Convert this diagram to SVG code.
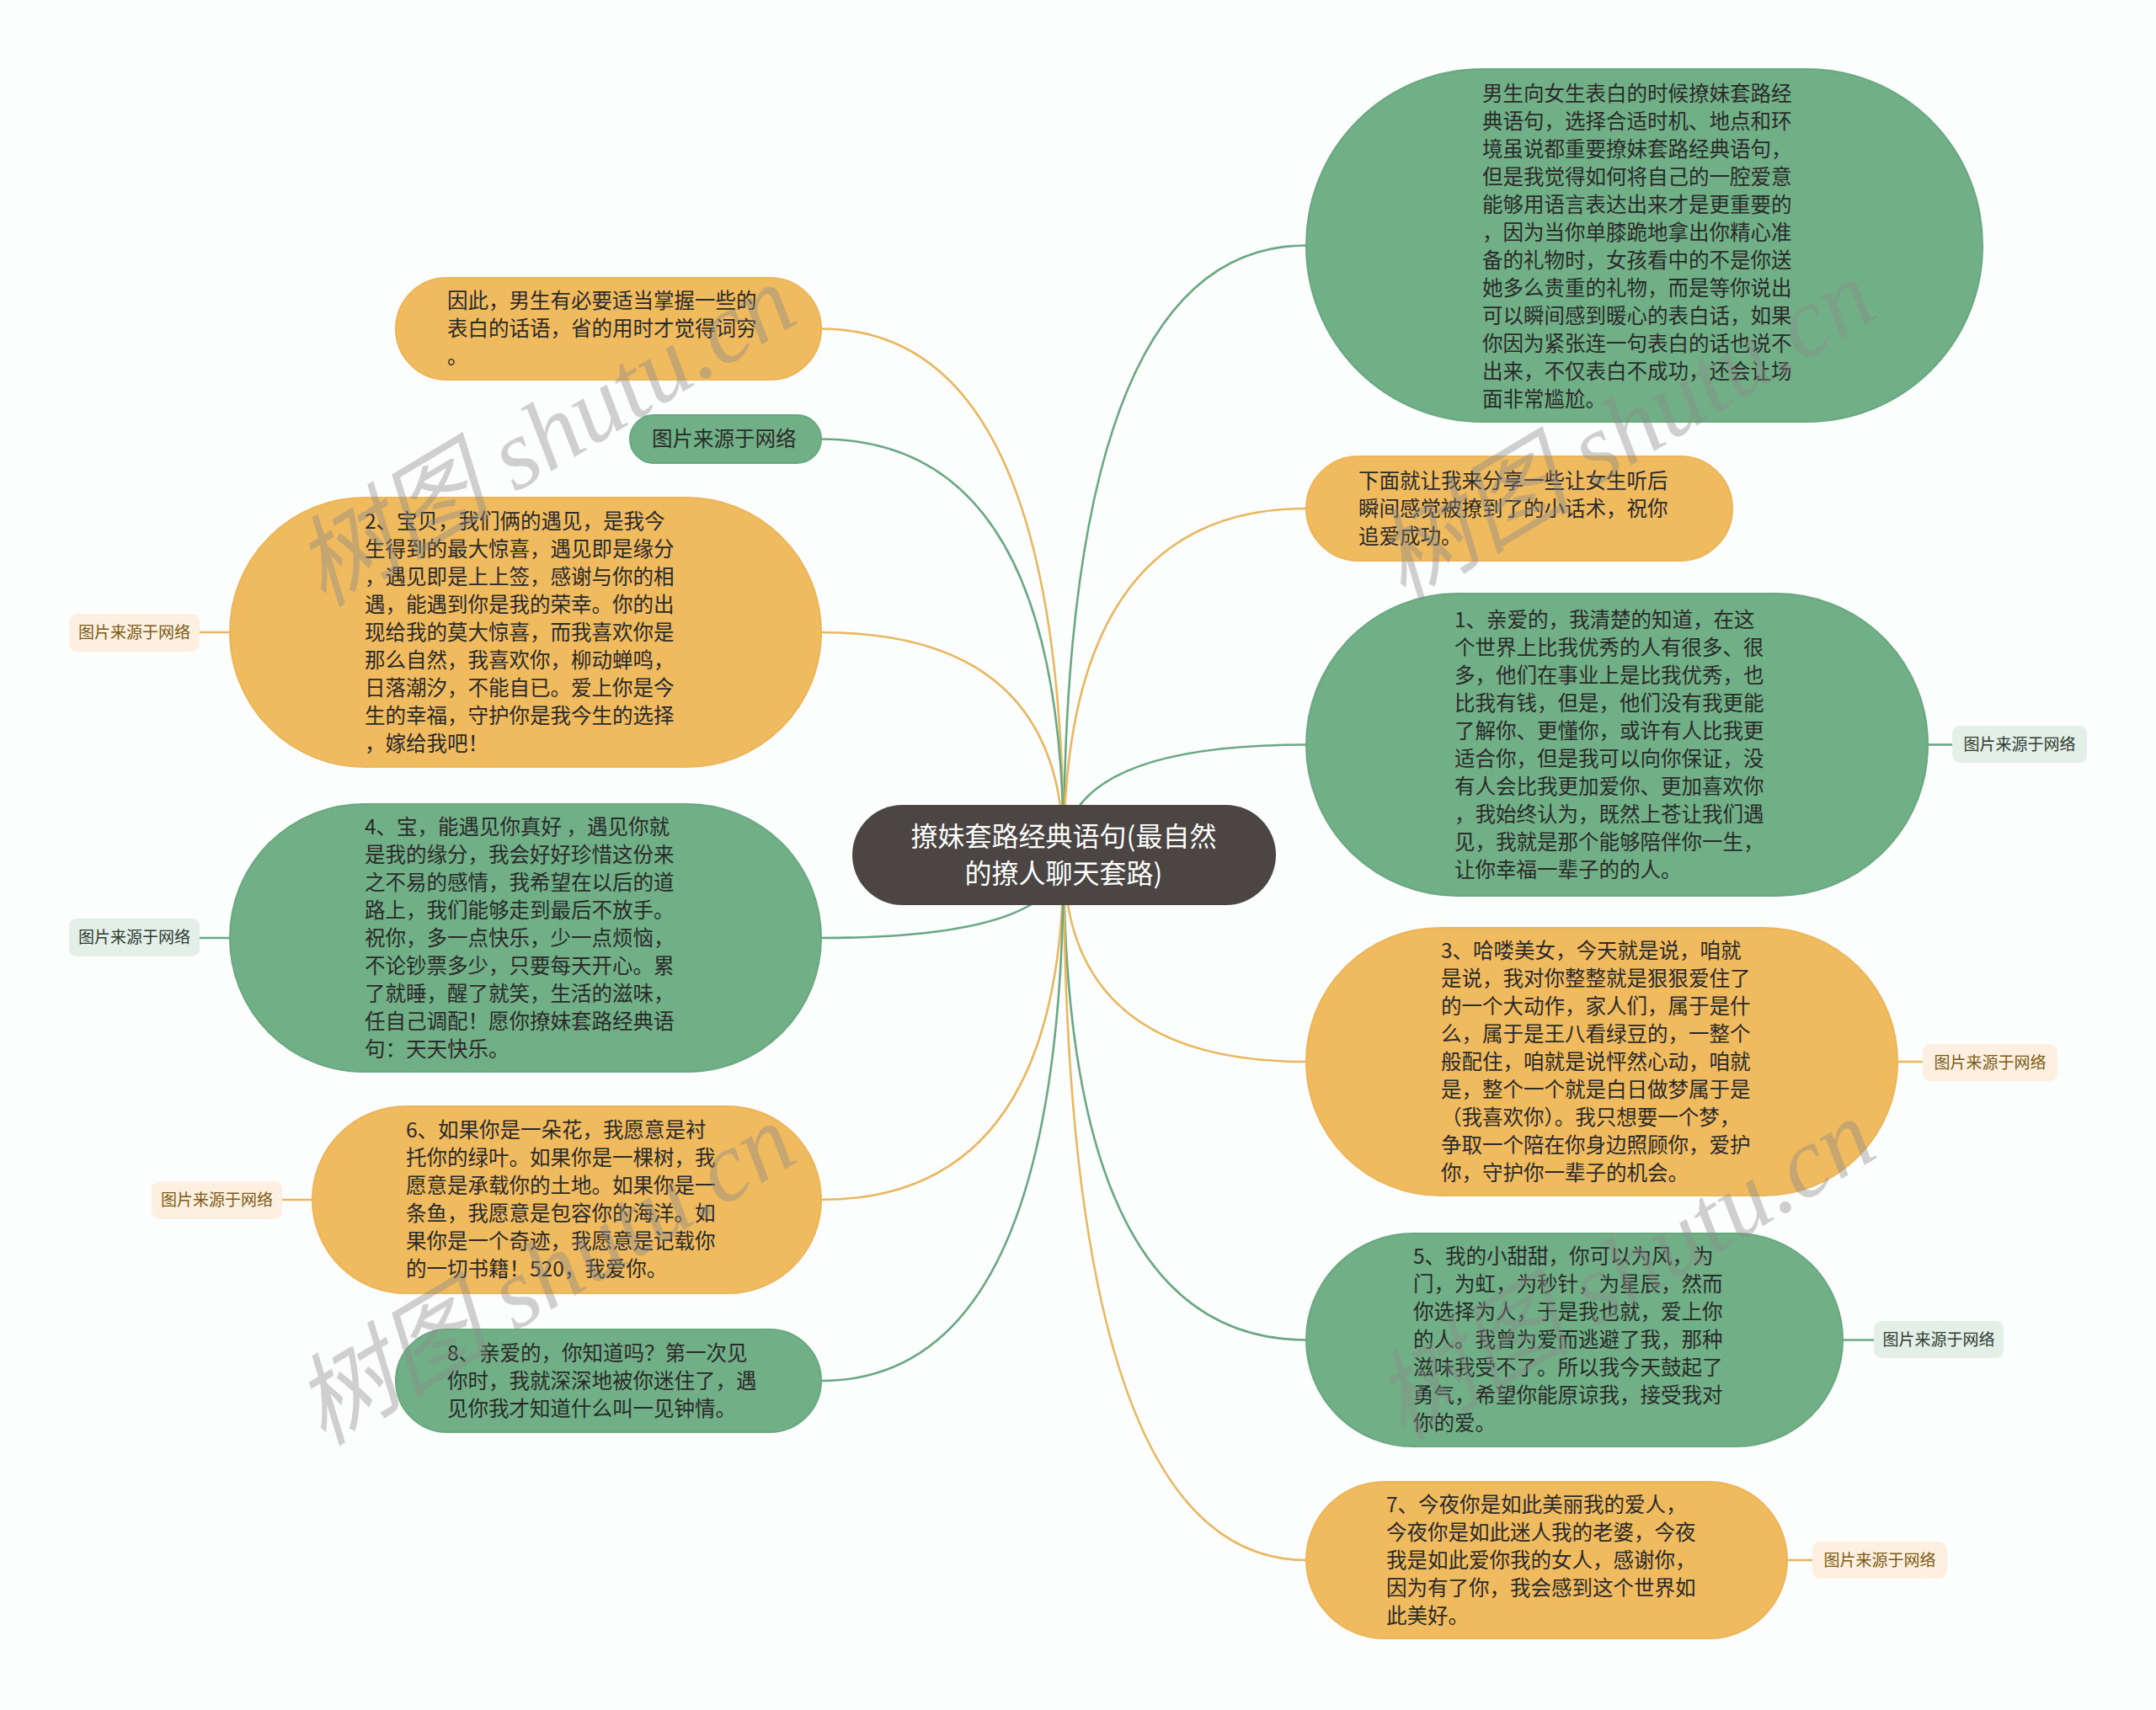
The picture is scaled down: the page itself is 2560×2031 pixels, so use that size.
<svg xmlns="http://www.w3.org/2000/svg" width="2560" height="2031" viewBox="0 0 2560 2031">
<style>
.bg{fill:#fcfefd}
.g{fill:#71b087;stroke:#68a87f;stroke-width:2}
.o{fill:#f0ba5f;stroke:#ecb55a;stroke-width:2}
.c{fill:#4b4544}
.t{font-family:"Noto Sans CJK SC","Microsoft YaHei",sans-serif;font-size:24.5px;fill:#2a2a2a}
.ct{font-family:"Noto Sans CJK SC",sans-serif;font-size:32px;fill:#ffffff;text-anchor:middle}
.lg{fill:#e4efe7}
.lo{fill:#fdf0e0}
.ltg{font-family:"Noto Sans CJK SC",sans-serif;font-size:19px;fill:#2e3b31;text-anchor:middle}
.lto{font-family:"Noto Sans CJK SC",sans-serif;font-size:19px;fill:#7d5a14;text-anchor:middle}
.cg{fill:none;stroke:#6aa882;stroke-width:2.6}
.co{fill:none;stroke:#e9b760;stroke-width:2.6}
.wm{font-family:"Liberation Serif","Noto Sans CJK SC",serif;font-style:italic;font-size:118px;fill:#8a8a8a;opacity:0.4;text-anchor:middle}
</style>
<rect class="bg" x="0" y="0" width="2560" height="2031"/>
<g id="connectors">
<path class="cg" d="M1263 1015 Q1263 291.5 1551 291.5"/>
<path class="co" d="M1263 1015 Q1263 604 1551 604"/>
<path class="cg" d="M1263 1015 Q1263 884.5 1551 884.5"/>
<path class="co" d="M1263 1015 Q1263 1261 1551 1261"/>
<path class="cg" d="M1263 1015 Q1263 1591.5 1551 1591.5"/>
<path class="co" d="M1263 1015 Q1263 1853 1551 1853"/>
<path class="co" d="M1263 1015 Q1263 390.5 975 390.5"/>
<path class="cg" d="M1263 1015 Q1263 521.5 975 521.5"/>
<path class="co" d="M1263 1015 Q1263 751 975 751"/>
<path class="cg" d="M1263 1015 Q1263 1114 975 1114"/>
<path class="co" d="M1263 1015 Q1263 1425 975 1425"/>
<path class="cg" d="M1263 1015 Q1263 1640 975 1640"/>
<path class="cg" d="M2289 884.5 H2318"/>
<path class="co" d="M2253 1261 H2283"/>
<path class="cg" d="M2188 1591.5 H2225"/>
<path class="co" d="M2122 1853 H2152"/>
<path class="co" d="M237 751 H273"/>
<path class="cg" d="M237 1114 H273"/>
<path class="co" d="M335 1425 H371"/>
</g>
<g id="center">
<rect class="c" x="1012" y="956" width="503" height="119" rx="59.5"/>
<text class="ct" x="1263" y="1005">撩妹套路经典语句(最自然</text>
<text class="ct" x="1263" y="1049">的撩人聊天套路)</text>
</g>
<g id="r1">
<rect class="g" x="1551" y="82" width="803" height="419" rx="209" ry="209"/>
<text class="t" x="1760"><tspan x="1760" y="120">男生向女生表白的时候撩妹套路经</tspan><tspan x="1760" y="153">典语句，选择合适时机、地点和环</tspan><tspan x="1760" y="186">境虽说都重要撩妹套路经典语句，</tspan><tspan x="1760" y="219">但是我觉得如何将自己的一腔爱意</tspan><tspan x="1760" y="252">能够用语言表达出来才是更重要的</tspan><tspan x="1760" y="285">，因为当你单膝跪地拿出你精心准</tspan><tspan x="1760" y="318">备的礼物时，女孩看中的不是你送</tspan><tspan x="1760" y="351">她多么贵重的礼物，而是等你说出</tspan><tspan x="1760" y="384">可以瞬间感到暖心的表白话，如果</tspan><tspan x="1760" y="417">你因为紧张连一句表白的话也说不</tspan><tspan x="1760" y="450">出来，不仅表白不成功，还会让场</tspan><tspan x="1760" y="483">面非常尴尬。</tspan></text>
</g>
<g id="r2">
<rect class="o" x="1551" y="542" width="506" height="124" rx="62"/>
<text class="t"><tspan x="1613" y="580">下面就让我来分享一些让女生听后</tspan><tspan x="1613" y="613">瞬间感觉被撩到了的小话术，祝你</tspan><tspan x="1613" y="646">追爱成功。</tspan></text>
</g>
<g id="r3">
<rect class="g" x="1551" y="705" width="738" height="359" rx="179.5"/>
<text class="t"><tspan x="1727" y="745">1、亲爱的，我清楚的知道，在这</tspan><tspan x="1727" y="778">个世界上比我优秀的人有很多、很</tspan><tspan x="1727" y="811">多，他们在事业上是比我优秀，也</tspan><tspan x="1727" y="844">比我有钱，但是，他们没有我更能</tspan><tspan x="1727" y="877">了解你、更懂你，或许有人比我更</tspan><tspan x="1727" y="910">适合你，但是我可以向你保证，没</tspan><tspan x="1727" y="943">有人会比我更加爱你、更加喜欢你</tspan><tspan x="1727" y="976">，我始终认为，既然上苍让我们遇</tspan><tspan x="1727" y="1009">见，我就是那个能够陪伴你一生，</tspan><tspan x="1727" y="1042">让你幸福一辈子的的人。</tspan></text>
</g>
<g id="r3-label">
<rect class="lg" x="2318" y="862" width="160" height="44" rx="9"/>
<text class="ltg" x="2398" y="891">图片来源于网络</text>
</g>
<g id="r4">
<rect class="o" x="1551" y="1102" width="702" height="318" rx="159"/>
<text class="t"><tspan x="1711" y="1138">3、哈喽美女，今天就是说，咱就</tspan><tspan x="1711" y="1171">是说，我对你整整就是狠狠爱住了</tspan><tspan x="1711" y="1204">的一个大动作，家人们，属于是什</tspan><tspan x="1711" y="1237">么，属于是王八看绿豆的，一整个</tspan><tspan x="1711" y="1270">般配住，咱就是说怦然心动，咱就</tspan><tspan x="1711" y="1303">是，整个一个就是白日做梦属于是</tspan><tspan x="1711" y="1336">（我喜欢你）。我只想要一个梦，</tspan><tspan x="1711" y="1369">争取一个陪在你身边照顾你，爱护</tspan><tspan x="1711" y="1402">你，守护你一辈子的机会。</tspan></text>
</g>
<g id="r4-label">
<rect class="lo" x="2283" y="1240" width="160" height="44" rx="9"/>
<text class="lto" x="2363" y="1269">图片来源于网络</text>
</g>
<g id="r5">
<rect class="g" x="1551" y="1465" width="637" height="253" rx="126.5"/>
<text class="t"><tspan x="1678" y="1501">5、我的小甜甜，你可以为风，为</tspan><tspan x="1678" y="1534">门，为虹，为秒针，为星辰，然而</tspan><tspan x="1678" y="1567">你选择为人，于是我也就，爱上你</tspan><tspan x="1678" y="1600">的人。我曾为爱而逃避了我，那种</tspan><tspan x="1678" y="1633">滋味我受不了。所以我今天鼓起了</tspan><tspan x="1678" y="1666">勇气，希望你能原谅我，接受我对</tspan><tspan x="1678" y="1699">你的爱。</tspan></text>
</g>
<g id="r5-label">
<rect class="lg" x="2225" y="1569" width="154" height="44" rx="9"/>
<text class="ltg" x="2302" y="1598">图片来源于网络</text>
</g>
<g id="r6">
<rect class="o" x="1551" y="1760" width="571" height="186" rx="93"/>
<text class="t"><tspan x="1646" y="1796">7、今夜你是如此美丽我的爱人，</tspan><tspan x="1646" y="1829">今夜你是如此迷人我的老婆，今夜</tspan><tspan x="1646" y="1862">我是如此爱你我的女人，感谢你，</tspan><tspan x="1646" y="1895">因为有了你，我会感到这个世界如</tspan><tspan x="1646" y="1928">此美好。</tspan></text>
</g>
<g id="r6-label">
<rect class="lo" x="2152" y="1831" width="160" height="44" rx="9"/>
<text class="lto" x="2232" y="1860">图片来源于网络</text>
</g>
<g id="l1">
<rect class="o" x="470" y="330" width="505" height="121" rx="60.5"/>
<text class="t"><tspan x="531" y="366">因此，男生有必要适当掌握一些的</tspan><tspan x="531" y="399">表白的话语，省的用时才觉得词穷</tspan><tspan x="531" y="432">。</tspan></text>
</g>
<g id="l2">
<rect class="g" x="748" y="493" width="227" height="57" rx="28.5"/>
<text class="t" x="774" y="530">图片来源于网络</text>
</g>
<g id="l3">
<rect class="o" x="273" y="591" width="702" height="320" rx="160"/>
<text class="t"><tspan x="433" y="628">2、宝贝，我们俩的遇见，是我今</tspan><tspan x="433" y="661">生得到的最大惊喜，遇见即是缘分</tspan><tspan x="433" y="694">，遇见即是上上签，感谢与你的相</tspan><tspan x="433" y="727">遇，能遇到你是我的荣幸。你的出</tspan><tspan x="433" y="760">现给我的莫大惊喜，而我喜欢你是</tspan><tspan x="433" y="793">那么自然，我喜欢你，柳动蝉鸣，</tspan><tspan x="433" y="826">日落潮汐，不能自已。爱上你是今</tspan><tspan x="433" y="859">生的幸福，守护你是我今生的选择</tspan><tspan x="433" y="892">，嫁给我吧！</tspan></text>
</g>
<g id="l3-label">
<rect class="lo" x="82" y="729" width="155" height="45" rx="9"/>
<text class="lto" x="159.5" y="758">图片来源于网络</text>
</g>
<g id="l4">
<rect class="g" x="273" y="955" width="702" height="318" rx="159"/>
<text class="t"><tspan x="433" y="991">4、宝，能遇见你真好 ，遇见你就</tspan><tspan x="433" y="1024">是我的缘分，我会好好珍惜这份来</tspan><tspan x="433" y="1057">之不易的感情，我希望在以后的道</tspan><tspan x="433" y="1090">路上，我们能够走到最后不放手。</tspan><tspan x="433" y="1123">祝你，多一点快乐，少一点烦恼，</tspan><tspan x="433" y="1156">不论钞票多少，只要每天开心。累</tspan><tspan x="433" y="1189">了就睡，醒了就笑，生活的滋味，</tspan><tspan x="433" y="1222">任自己调配！愿你撩妹套路经典语</tspan><tspan x="433" y="1255">句：天天快乐。</tspan></text>
</g>
<g id="l4-label">
<rect class="lg" x="82" y="1091" width="155" height="45" rx="9"/>
<text class="ltg" x="159.5" y="1120">图片来源于网络</text>
</g>
<g id="l5">
<rect class="o" x="371" y="1314" width="604" height="222" rx="111"/>
<text class="t"><tspan x="482" y="1351">6、如果你是一朵花，我愿意是衬</tspan><tspan x="482" y="1384">托你的绿叶。如果你是一棵树，我</tspan><tspan x="482" y="1417">愿意是承载你的土地。如果你是一</tspan><tspan x="482" y="1450">条鱼，我愿意是包容你的海洋。如</tspan><tspan x="482" y="1483">果你是一个奇迹，我愿意是记载你</tspan><tspan x="482" y="1516">的一切书籍！520，我爱你。</tspan></text>
</g>
<g id="l5-label">
<rect class="lo" x="180" y="1403" width="155" height="45" rx="9"/>
<text class="lto" x="257.5" y="1432">图片来源于网络</text>
</g>
<g id="l6">
<rect class="g" x="470" y="1579" width="505" height="122" rx="61"/>
<text class="t"><tspan x="531" y="1616">8、亲爱的，你知道吗？第一次见</tspan><tspan x="531" y="1649">你时，我就深深地被你迷住了，遇</tspan><tspan x="531" y="1682">见你我才知道什么叫一见钟情。</tspan></text>
</g>
<g id="watermarks">
<text class="wm" transform="translate(648 519) rotate(-31)" x="0" y="38">树图 shutu.cn</text>
<text class="wm" transform="translate(1930 512) rotate(-31)" x="0" y="38">树图 shutu.cn</text>
<text class="wm" transform="translate(648 1515) rotate(-31)" x="0" y="38">树图 shutu.cn</text>
<text class="wm" transform="translate(1930 1510) rotate(-31)" x="0" y="38">树图 shutu.cn</text>
</g>
</svg>
